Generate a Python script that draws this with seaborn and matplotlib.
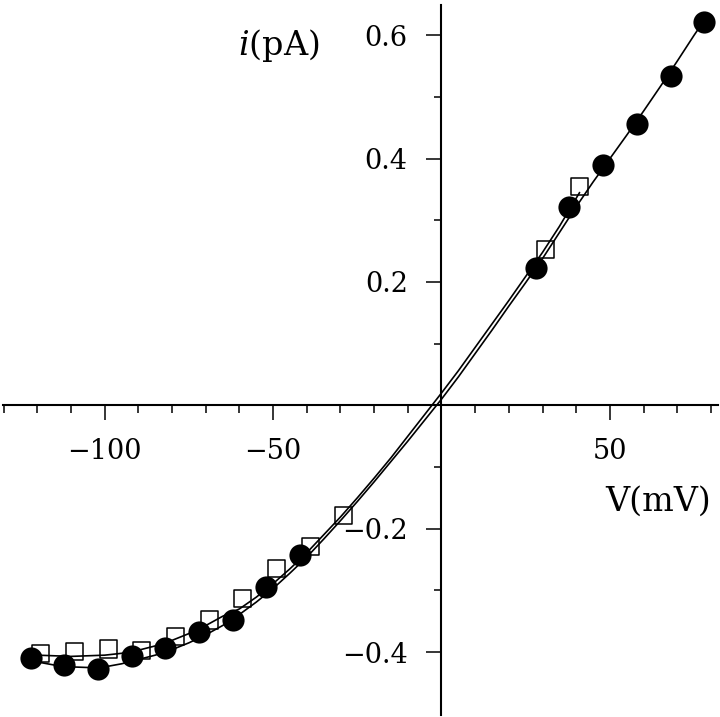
import matplotlib
matplotlib.use("Agg")
import matplotlib.pyplot as plt
import seaborn as sns
import pandas as pd

# ---- data ----
circ_v = [-122, -112, -102, -92, -82, -72, -62, -52, -42, 28, 38, 48, 58, 68, 78]
circ_i = [-0.410, -0.421, -0.428, -0.407, -0.393, -0.368, -0.348, -0.295, -0.243,
          0.222, 0.321, 0.389, 0.456, 0.534, 0.621]

sq_v = [-119, -109, -99, -89, -79, -69, -59, -49, -39, -29, 31, 41]
sq_i = [-0.402, -0.399, -0.395, -0.397, -0.375, -0.348, -0.313, -0.264, -0.229,
        -0.178, 0.253, 0.354]

fitA_v = [-122, -120, -115, -110, -105, -100, -95, -90, -85, -80, -75, -70, -65, -60,
          -55, -50, -45, -40, -35, -30, -25, -20, -15, -10, -5, 0, 5, 10, 15, 20, 25,
          30, 35, 40, 45, 50, 55, 60, 65, 70, 75, 78]
fitA_i = [-0.413, -0.416, -0.421, -0.424, -0.425, -0.424, -0.419, -0.412, -0.405,
          -0.396, -0.385, -0.372, -0.357, -0.339, -0.319, -0.297, -0.272, -0.246,
          -0.217, -0.187, -0.156, -0.124, -0.091, -0.058, -0.024, 0.010, 0.046, 0.084,
          0.122, 0.161, 0.199, 0.238, 0.280, 0.322, 0.362, 0.400, 0.438, 0.477, 0.517,
          0.558, 0.600, 0.624]

fitB_v = [-120, -115, -110, -105, -100, -95, -90, -85, -80, -75, -70, -65, -60, -55,
          -50, -45, -40, -35, -30, -25, -20, -15, -10, -5, 0, 5, 10, 15, 20, 25, 30,
          35, 41]
fitB_i = [-0.405, -0.406, -0.407, -0.406, -0.405, -0.402, -0.397, -0.390, -0.381,
          -0.370, -0.357, -0.342, -0.330, -0.311, -0.289, -0.265, -0.239, -0.210,
          -0.181, -0.150, -0.118, -0.085, -0.050, -0.015, 0.020, 0.056, 0.094, 0.132,
          0.170, 0.209, 0.248, 0.290, 0.345]

x_major = [-100, -50, 50]
x_minor = [-130, -120, -110, -90, -80, -70, -60, -40, -30, -20, -10,
           10, 20, 30, 40, 60, 70, 80]
y_major = [-0.4, -0.2, 0.2, 0.4, 0.6]
y_minor = [-0.3, -0.1, 0.1, 0.3, 0.5]

sns.set_theme(style="white")
plt.rcParams["font.family"] = ["DejaVu Serif"]
plt.rcParams["mathtext.fontset"] = "dejavuserif"
plt.rcParams["axes.unicode_minus"] = True

fig = plt.figure(figsize=(7.2, 7.17), dpi=100)
ax = fig.add_axes([3 / 720, 2 / 717, 715 / 720, 710 / 717])
ax.set_facecolor("white")

dfA = pd.DataFrame({"V": fitA_v, "I": fitA_i})
dfB = pd.DataFrame({"V": fitB_v, "I": fitB_i})
sns.lineplot(data=dfA, x="V", y="I", sort=False, estimator=None, color="black",
             linewidth=1.2, ax=ax, zorder=2)
sns.lineplot(data=dfB, x="V", y="I", sort=False, estimator=None, color="black",
             linewidth=1.2, ax=ax, zorder=2)

sns.scatterplot(x=sq_v, y=sq_i, marker="s", s=150, facecolor="none",
                edgecolor="black", linewidth=1.1, ax=ax, zorder=3)
sns.scatterplot(x=circ_v, y=circ_i, marker="o", s=255, color="black",
                edgecolor="black", linewidth=0, ax=ax, zorder=4)

ax.set_xlim(-130.2, 82.1)
ax.set_ylim(-0.502, 0.649)

for s in ["top", "right"]:
    ax.spines[s].set_visible(False)
for s in ["left", "bottom"]:
    ax.spines[s].set_position(("data", 0))
    ax.spines[s].set_color("black")
    ax.spines[s].set_linewidth(1.5)

ax.set_xticks(x_major)
ax.set_xticks(x_minor, minor=True)
ax.set_yticks(y_major)
ax.set_yticks(y_minor, minor=True)
ax.set_xticklabels(["\u2212100", "\u221250", "50"])
ax.set_yticklabels(["\u22120.4", "\u22120.2", "0.2", "0.4", "0.6"])

ax.tick_params(axis="both", which="both", direction="out", color="black",
               width=1.1, labelsize=19.5, labelcolor="black")
ax.tick_params(axis="both", which="major", length=10.8)
ax.tick_params(axis="both", which="minor", length=5.4)
ax.tick_params(axis="x", which="major", pad=12.5)
ax.tick_params(axis="y", which="major", pad=13.5)
ax.xaxis.set_ticks_position("bottom")
ax.yaxis.set_ticks_position("left")

ax.set_xlabel("V(mV)", fontsize=24, color="black", va="center", ha="center")
ax.xaxis.set_label_coords((658 - 3) / 715, (715 - 502) / 710)
ax.set_ylabel("$i$(pA)", fontsize=24, color="black", rotation=0,
              va="center", ha="center")
ax.yaxis.set_label_coords((279 - 3) / 715, (715 - 46) / 710)

fig.savefig("out.png", dpi=100, facecolor="white")
